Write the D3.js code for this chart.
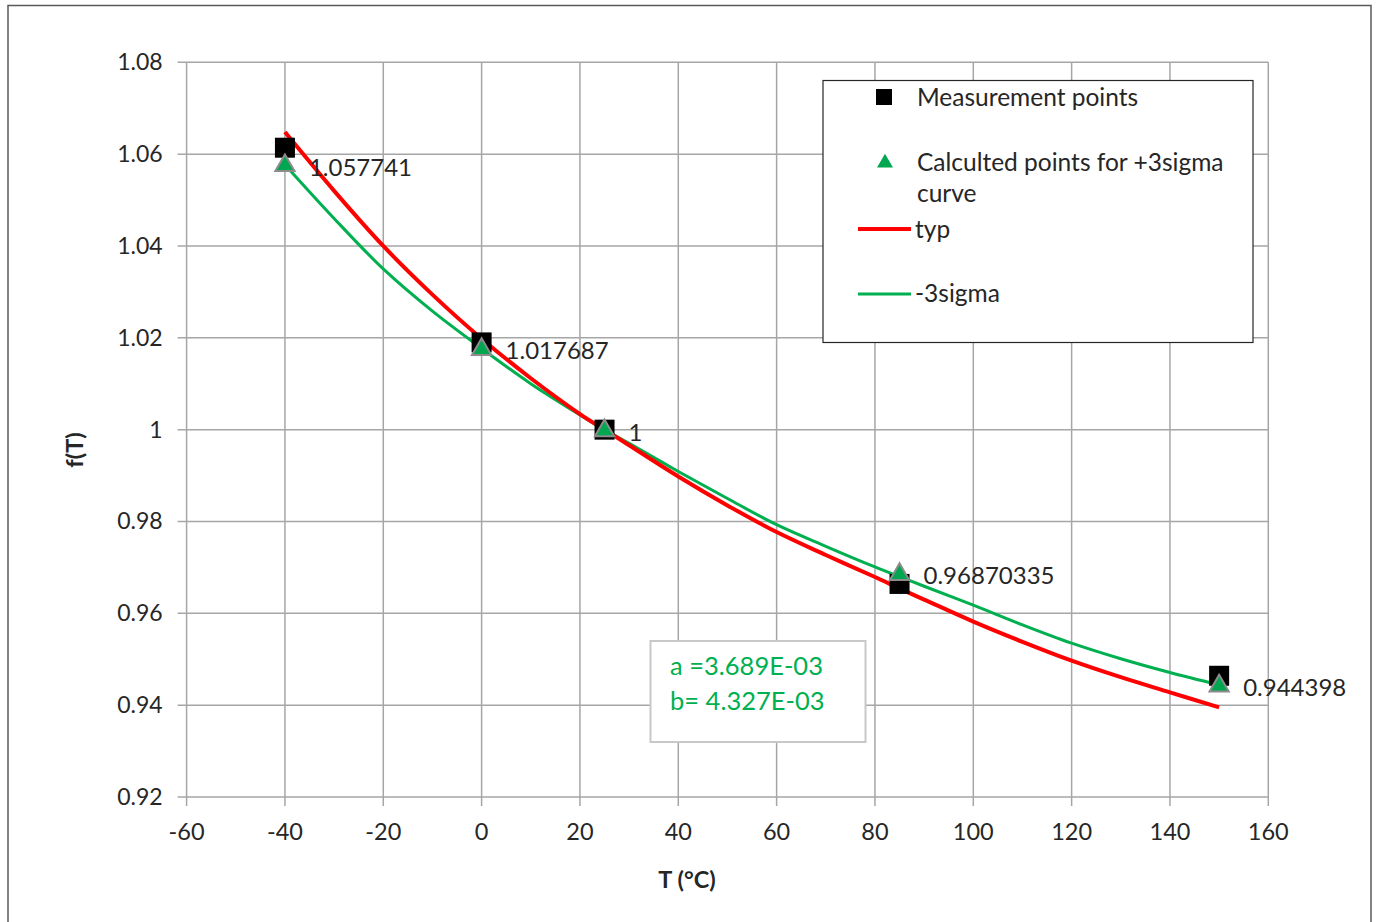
<!DOCTYPE html>
<html>
<head>
<meta charset="utf-8">
<script src="https://cdn.jsdelivr.net/npm/d3@7"></script>
<style>
  html, body { margin: 0; padding: 0; background: #fff; }
  svg { display: block; }
  text { font-family: Lato, "Open Sans", sans-serif; fill: #262626; }
</style>
</head>
<body>
<svg id="chart" width="1378" height="922"></svg>
<script>
// ---- data ----
const measT = [-40, 0, 25, 85, 150];
const measV = [1.0614, 1.0190, 1.0, 0.9664, 0.9464];

const calcT = [-40, 0, 25, 85, 150];
const calcV = [1.057741, 1.017687, 1, 0.96870335, 0.944398];
const calcLabels = ["1.057741", "1.017687", "1", "0.96870335", "0.944398"];

const curveT = [-40, -30, -20, -10, 0, 10, 20, 25, 30, 40, 50, 60, 70, 80, 85, 90, 100, 110, 120, 130, 140, 150];
const typV   = [1.0648, 1.0520, 1.0400, 1.0294, 1.0198, 1.0112, 1.0034, 1.0, 0.9966, 0.9898, 0.9835, 0.9777, 0.9727, 0.9679, 0.9654, 0.9630, 0.9582, 0.9538, 0.9497, 0.9461, 0.9428, 0.9395];
const sigV   = [1.0577, 1.0460, 1.0350, 1.0258, 1.0177, 1.0100, 1.0032, 1.0, 0.9970, 0.9909, 0.9850, 0.9793, 0.9746, 0.9701, 0.9680, 0.9659, 0.9618, 0.9575, 0.9535, 0.9501, 0.9471, 0.9444];

const xTicks = [-60, -40, -20, 0, 20, 40, 60, 80, 100, 120, 140, 160];
const yTicks = [0.92, 0.94, 0.96, 0.98, 1, 1.02, 1.04, 1.06, 1.08];
const yTickLabels = ["0.92", "0.94", "0.96", "0.98", "1", "1.02", "1.04", "1.06", "1.08"];

const legendItems = ["Measurement points", "Calculted points for +3sigma", "curve", "typ", "-3sigma"];
const annotation = ["a =3.689E-03", "b= 4.327E-03"];

// ---- layout ----
const svg = d3.select("#chart");
const L = 186.6, R = 1268.3, T = 62.3, B = 797;
const x = d3.scaleLinear().domain([-60, 160]).range([L, R]);
const y = d3.scaleLinear().domain([0.92, 1.08]).range([B, T]);
const gridColor = "#a6a6a6";
const red = "#ff0000", green = "#00b050";

// outer frame
svg.append("rect").attr("x", 8).attr("y", 5.5).attr("width", 1363).attr("height", 930)
  .attr("fill", "none").attr("stroke", "#595959").attr("stroke-width", 1.5);

// grid
const g = svg.append("g");
g.selectAll(".vg").data(xTicks).join("line")
  .attr("x1", d => x(d)).attr("x2", d => x(d)).attr("y1", T).attr("y2", B + 9)
  .attr("stroke", gridColor).attr("stroke-width", 1.5);
g.selectAll(".hg").data(yTicks).join("line")
  .attr("x1", L - 9).attr("x2", R).attr("y1", d => y(d)).attr("y2", d => y(d))
  .attr("stroke", gridColor).attr("stroke-width", 1.5);

// tick labels
g.selectAll(".xl").data(xTicks).join("text")
  .attr("x", d => x(d)).attr("y", B + 43).attr("text-anchor", "middle")
  .attr("font-size", 23.5).text(d => d);
g.selectAll(".yl").data(yTicks).join("text")
  .attr("x", L - 24).attr("y", d => y(d) + 8).attr("text-anchor", "end")
  .attr("font-size", 23).text((d, i) => yTickLabels[i]);

// axis titles
svg.append("text").attr("x", 687).attr("y", 888).attr("text-anchor", "middle")
  .attr("font-size", 23.5).attr("font-weight", "bold").text("T (°C)");
svg.append("text").attr("transform", "translate(83,450) rotate(-90)").attr("text-anchor", "middle")
  .attr("font-size", 23.5).attr("font-weight", "bold").text("f(T)");

// curves
const line = d3.line().x(d => x(d[0])).y(d => y(d[1])).curve(d3.curveCatmullRom.alpha(0.5));
svg.append("path").datum(curveT.map((t, i) => [t, sigV[i]]))
  .attr("d", line).attr("fill", "none").attr("stroke", green).attr("stroke-width", 3);
svg.append("path").datum(curveT.map((t, i) => [t, typV[i]]))
  .attr("d", line).attr("fill", "none").attr("stroke", red).attr("stroke-width", 4);

// measurement squares
const sq = 20;
svg.selectAll(".sq").data(measT).join("rect")
  .attr("x", (d, i) => x(d) - sq / 2).attr("y", (d, i) => y(measV[i]) - sq / 2)
  .attr("width", sq).attr("height", sq).attr("fill", "#000");

// triangles
const tri = d3.symbol().type(d3.symbolTriangle).size(160);
svg.selectAll(".tri").data(calcT).join("path")
  .attr("transform", (d, i) => `translate(${x(d)},${y(calcV[i]) + 1})`)
  .attr("d", tri).attr("fill", "#00a650").attr("stroke", "#8c8c8c").attr("stroke-width", 2);

// data labels
svg.selectAll(".dl").data(calcT).join("text")
  .attr("x", d => x(d) + 24).attr("y", (d, i) => y(calcV[i]) + 11)
  .attr("font-size", 24).text((d, i) => calcLabels[i]);

// legend
const lg = svg.append("g");
lg.append("rect").attr("x", 823).attr("y", 80.5).attr("width", 430).attr("height", 262)
  .attr("fill", "#fff").attr("stroke", "#262626").attr("stroke-width", 1.2);
lg.append("rect").attr("x", 876).attr("y", 89).attr("width", 16).attr("height", 16).attr("fill", "#000");
lg.append("path").attr("transform", "translate(885,163)")
  .attr("d", d3.symbol().type(d3.symbolTriangle).size(110)).attr("fill", "#00a650");
lg.append("line").attr("x1", 858).attr("x2", 911).attr("y1", 229).attr("y2", 229)
  .attr("stroke", red).attr("stroke-width", 4);
lg.append("line").attr("x1", 858).attr("x2", 911).attr("y1", 294).attr("y2", 294)
  .attr("stroke", green).attr("stroke-width", 3);
const legY = [97, 162, 193, 229, 293];
const legX = [917, 917, 917, 915, 915];
lg.selectAll(".lt").data(legendItems).join("text")
  .attr("x", (d, i) => legX[i]).attr("y", (d, i) => legY[i] + 8.5)
  .attr("font-size", 24.5).text(d => d);

// annotation box
const ag = svg.append("g");
ag.append("rect").attr("x", 650.5).attr("y", 641).attr("width", 215).attr("height", 101)
  .attr("fill", "#fff").attr("stroke", "#c8c8c8").attr("stroke-width", 2);
ag.selectAll(".at").data(annotation).join("text")
  .attr("x", 670).attr("y", (d, i) => 675 + i * 35)
  .attr("font-size", 25.5).style("fill", green).text(d => d);
</script>
</body>
</html>
